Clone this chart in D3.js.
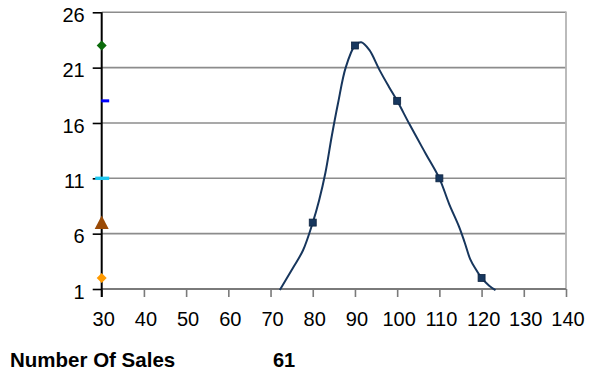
<!DOCTYPE html>
<html><head><meta charset="utf-8">
<script src="https://cdn.jsdelivr.net/npm/d3@7"></script>
<style>body{margin:0;background:#fff}svg{display:block}text{font-family:Arial,"Liberation Sans",sans-serif}</style>
</head><body><svg id="c" width="589" height="375"></svg>
<script>
const xTicks = [30,40,50,60,70,80,90,100,110,120,130,140];
const yTicks = [1,6,11,16,21,26];
const markerX = [80,90,100,110,120];
const markerY = [7,23,18,11,2];
const curveX = [72.2,75.3,77.7,80,81.5,83,84.5,86,87.8,90,91.5,93.4,95.8,98,100,102.9,106.8,110,112.3,114.7,116,117.3,118.6,120,121.8,123.3];
const curveY = [0.9,2.9,4.5,7,9,11.5,14.8,17.8,21,23,23.3,22.6,20.8,19.3,18,15.9,13.2,11,8.7,6.6,5.2,3.7,2.8,2,1.3,0.9];
const axisMarkers = [
  {name:"green", x:30, y:23, shape:"diamond", color:"#0b6b0b"},
  {name:"blue", x:30, y:18, shape:"dashR", color:"#0000ff"},
  {name:"cyan", x:30, y:11, shape:"dash", color:"#1ec8f0"},
  {name:"brown", x:30, y:7, shape:"triangle", color:"#9a4a06"},
  {name:"orange", x:30, y:2, shape:"diamond", color:"#ff9a00"}
];
const footLabel = "Number Of Sales";
const footValue = "61";

const svg = d3.select("#c");
const x = d3.scaleLinear().domain([30,140]).range([101.7,566]);
const y = d3.scaleLinear().domain([1,26]).range([289,12.3]);

// gridlines
svg.append("g").selectAll("line").data(yTicks.filter(d=>d>1)).join("line")
  .attr("x1",x(30)).attr("x2",x(140)).attr("y1",d=>y(d)).attr("y2",d=>y(d))
  .attr("stroke","#8c8c8c").attr("stroke-width",1.6);
// right border
svg.append("line").attr("x1",x(140)).attr("x2",x(140)).attr("y1",y(26)-0.8).attr("y2",y(1))
  .attr("stroke","#b4b4b4").attr("stroke-width",1.8);

// x axis
const xAxis = svg.append("g").attr("transform",`translate(0,${y(1)})`)
  .call(d3.axisBottom(x).tickValues(xTicks).tickSize(8).tickFormat(d=>d));
xAxis.select(".domain").attr("stroke","#7a7a7a").attr("stroke-width",2).attr("d",`M${x(30)},0H${x(140)}`);
xAxis.selectAll(".tick line").attr("stroke","#7a7a7a").attr("stroke-width",1.6);
xAxis.selectAll(".tick text").attr("font-size",20).attr("fill","#000").attr("y",null).attr("dy",null)
  .attr("transform","translate(1.5,37)");

// y axis
const yAxis = svg.append("g").attr("transform",`translate(${x(30)},0)`)
  .call(d3.axisLeft(y).tickValues(yTicks).tickSize(9).tickFormat(d=>d));
yAxis.select(".domain").attr("stroke","#000").attr("stroke-width",2).attr("d",`M0,${y(26)}V${y(1)+8}`);
yAxis.selectAll(".tick line").attr("stroke","#000").attr("stroke-width",1.6);
yAxis.selectAll(".tick text").attr("font-size",20).attr("fill","#000").attr("x",-17).attr("dy",null).attr("y",9.2);

// curve
const pts = curveX.map((v,i)=>[v,curveY[i]]);
svg.append("path").datum(pts)
  .attr("d",d3.line().x(d=>x(d[0])).y(d=>y(d[1])).curve(d3.curveCatmullRom.alpha(0.5)))
  .attr("fill","none").attr("stroke","#17365d").attr("stroke-width",2);

// square markers
svg.append("g").selectAll("rect").data(markerX.map((v,i)=>[v,markerY[i]])).join("rect")
  .attr("x",d=>x(d[0])-3.5).attr("y",d=>y(d[1])-3.5).attr("width",7).attr("height",7)
  .attr("fill","#17375e").attr("stroke","#0e2440").attr("stroke-width",0.8);

// axis markers
const g = svg.append("g");
axisMarkers.forEach(m=>{
  const cx = x(m.x), cy = y(m.y);
  if(m.shape==="diamond"){
    g.append("path").attr("d",`M${cx},${cy-5}L${cx+5},${cy}L${cx},${cy+5}L${cx-5},${cy}Z`).attr("fill",m.color);
  } else if(m.shape==="dashR"){
    g.append("rect").attr("x",cx-0.5).attr("y",cy-1.5).attr("width",8).attr("height",3).attr("fill",m.color);
  } else if(m.shape==="dash"){
    g.append("rect").attr("x",cx-6.5).attr("y",cy-1.7).attr("width",14).attr("height",3.4).attr("fill",m.color);
  } else if(m.shape==="triangle"){
    g.append("path").attr("d",`M${cx},${cy-7}L${cx+7},${cy+6.5}L${cx-7},${cy+6.5}Z`).attr("fill",m.color);
  }
});

// footer
svg.append("text").attr("x",10).attr("y",367).attr("font-size",20.5).attr("font-weight","bold").text(footLabel);
svg.append("text").attr("x",273).attr("y",367).attr("font-size",20).attr("font-weight","bold").text(footValue);
</script></body></html>
